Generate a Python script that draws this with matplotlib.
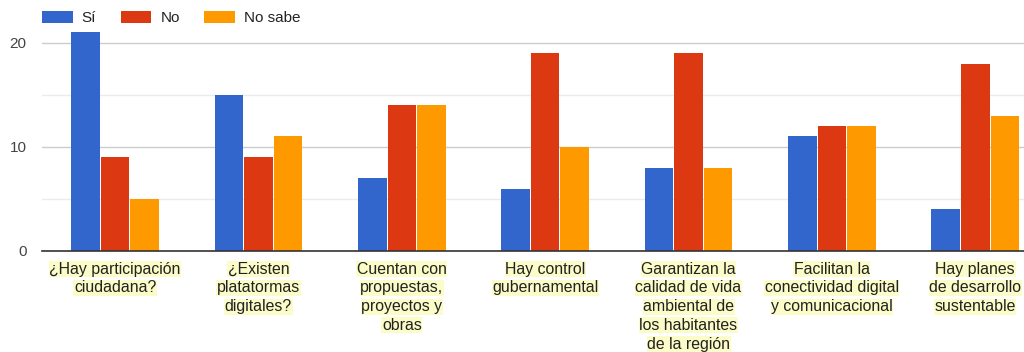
import numpy as np
import matplotlib.pyplot as plt

plt.rcParams['font.family'] = ['Liberation Sans', 'DejaVu Sans']

# data
categories = [
    ["¿Hay participación", "ciudadana?"],
    ["¿Existen", "platatormas", "digitales?"],
    ["Cuentan con", "propuestas,", "proyectos y", "obras"],
    ["Hay control", "gubernamental"],
    ["Garantizan la", "calidad de vida", "ambiental de", "los habitantes", "de la región"],
    ["Facilitan la", "conectividad digital", "y comunicacional"],
    ["Hay planes", "de desarrollo", "sustentable"],
]
si = [21, 15, 7, 6, 8, 11, 4]
no = [9, 9, 14, 19, 19, 12, 18]
no_sabe = [5, 11, 14, 10, 8, 12, 13]
series_names = ["Sí", "No", "No sabe"]
colors = ["#3366CC", "#DC3912", "#FF9900"]

fig = plt.figure(figsize=(10.24, 3.52), dpi=100)
ax = fig.add_axes([42 / 1024, 101 / 352, 1 - 42 / 1024, 251 / 352])

x = np.arange(len(categories))
w = 0.206
for i, vals in enumerate([si, no, no_sabe]):
    ax.bar(x + (i - 1) * w, vals, width=w - 0.007, color=colors[i],
           label=series_names[i], zorder=3)

ax.set_xlim(-0.51, 6.34)
ax.set_ylim(0, 24.1)
ax.set_yticks([0, 10, 20])
ax.set_yticks([5, 15], minor=True)
ax.grid(axis='y', which='major', color='#cccccc', lw=1, zorder=0)
ax.grid(axis='y', which='minor', color='#ebebeb', lw=1, zorder=0)
ax.tick_params(axis='y', which='both', length=0, labelsize=11, labelcolor='#444444', pad=11)
ax.tick_params(axis='x', length=0, labelbottom=False)
for s in ['top', 'right', 'left']:
    ax.spines[s].set_visible(False)
ax.spines['bottom'].set_color('#333333')
ax.spines['bottom'].set_linewidth(1.2)
ax.spines['bottom'].set_zorder(4)

# category labels, one highlighted line at a time
for xi, lines in zip(x, categories):
    for j, line in enumerate(lines):
        ax.annotate(line, xy=(xi, 0), xycoords='data',
                    xytext=(0, -13.0 - j * 13.5), textcoords='offset points',
                    ha='center', va='center', fontsize=11.4, color='#222222',
                    annotation_clip=False,
                    bbox=dict(boxstyle='square,pad=0.03', fc='#fcfcc8', ec='none'))

ax.legend(loc='upper left', bbox_to_anchor=(42 / 1024, 1 - 11 / 352), bbox_transform=fig.transFigure,
          ncol=3, frameon=False, fontsize=11, handlelength=2.0, handleheight=0.85,
          columnspacing=1.6, handletextpad=0.6, borderpad=0, borderaxespad=0,
          labelcolor='#222222')

plt.savefig('out.png', dpi=100)
